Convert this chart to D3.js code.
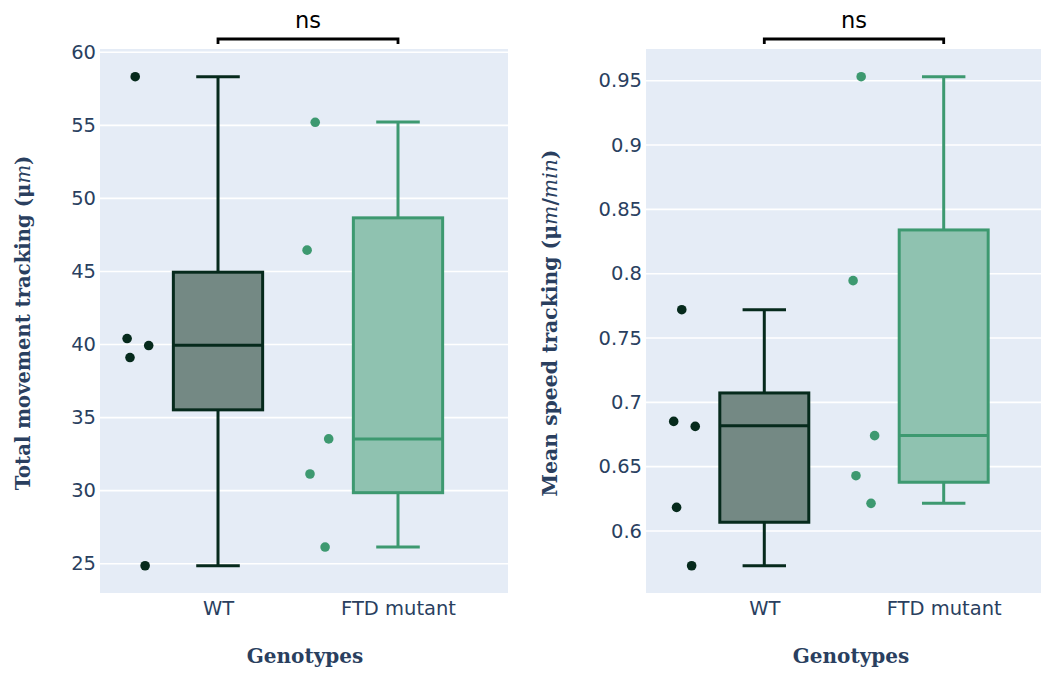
<!DOCTYPE html>
<html>
<head>
<meta charset="utf-8">
<script src="https://cdn.jsdelivr.net/npm/d3@7"></script>
<style>
  html, body { margin: 0; padding: 0; background: #fff; }
  svg { display: block; }
</style>
</head>
<body>
<svg id="chart" width="1041" height="675"></svg>
<script>
// ---------------- data ----------------
const categories = ["WT", "FTD mutant"];

// individual points (sorted high -> low)
const wtMovement  = [58.33, 40.41, 39.93, 39.11, 24.86];
const ftdMovement = [55.21, 46.46, 33.54, 31.14, 26.14];
const wtSpeed     = [0.772, 0.6852, 0.6813, 0.6184, 0.573];
const ftdSpeed    = [0.9531, 0.7946, 0.6741, 0.643, 0.6215];

// horizontal jitter of the points (category units, same for every group)
const pointJitter = [-0.46, -0.505, -0.385, -0.489, -0.405];

// box statistics: [lower fence, q1, median, q3, upper fence]
const wtMovementBox  = [24.86, 35.53, 39.95, 44.95, 58.33];
const ftdMovementBox = [26.14, 29.86, 33.54, 48.67, 55.23];
const wtSpeedBox     = [0.573, 0.6068, 0.6818, 0.7073, 0.772];
const ftdSpeedBox    = [0.6215, 0.6379, 0.6743, 0.834, 0.9531];

// tick values
const movementTicks = [25, 30, 35, 40, 45, 50, 55, 60];
const speedTicks = [0.6, 0.65, 0.7, 0.75, 0.8, 0.85, 0.9, 0.95];

const significance = ["ns", "ns"];

// ---------------- style ----------------
const colors = { "WT": "#062a1c", "FTD mutant": "#3d9970" };
const fills  = { "WT": "#748984", "FTD mutant": "#8fc2b0" };
const textColor = "#2a3f5f";
const bg = "#e5ecf6";

const svg = d3.select("#chart");

const panels = [
  {
    left: 100, right: 508, top: 49, bottom: 593,
    xDomain: [-0.6556, 1.6111],
    yDomain: [22.995, 60.226],
    ticks: movementTicks, fmt: d => String(d),
    points: [wtMovement, ftdMovement],
    boxes: [wtMovementBox, ftdMovementBox],
    title: [["Total movement tracking (", "n"], ["μ", "n"], ["m", "i"], [")", "n"]],
    titleX: 30, titleLen: 335, xTitleX: 305,
    sig: significance[0]
  },
  {
    left: 646, right: 1041, top: 49, bottom: 593,
    xDomain: [-0.6594, 1.5424],
    yDomain: [0.55181, 0.97464],
    ticks: speedTicks, fmt: d => String(d),
    points: [wtSpeed, ftdSpeed],
    boxes: [wtSpeedBox, ftdSpeedBox],
    title: [["Mean speed tracking (", "n"], ["μ", "n"], ["m", "i"], ["/", "n"], ["min", "i"], [")", "n"]],
    titleX: 557, titleLen: 347, xTitleX: 851,
    sig: significance[1]
  }
];

panels.forEach(p => {
  const x = d3.scaleLinear().domain(p.xDomain).range([p.left, p.right]);
  const y = d3.scaleLinear().domain(p.yDomain).range([p.bottom, p.top]);
  const g = svg.append("g");

  // background
  g.append("rect").attr("x", p.left).attr("y", p.top)
    .attr("width", p.right - p.left).attr("height", p.bottom - p.top)
    .attr("fill", bg);

  // grid
  g.selectAll(".grid").data(p.ticks).enter().append("line")
    .attr("x1", p.left).attr("x2", p.right)
    .attr("y1", d => y(d)).attr("y2", d => y(d))
    .attr("stroke", "#fff").attr("stroke-width", 1.6);

  // y axis labels
  const yAxis = d3.axisLeft(y).tickValues(p.ticks).tickFormat(p.fmt).tickSize(0).tickPadding(4);
  const ya = g.append("g").attr("transform", `translate(${p.left},0)`).call(yAxis);
  ya.select(".domain").remove();
  ya.selectAll("text").attr("fill", textColor)
    .style("font-family", "DejaVu Sans, Verdana, sans-serif").style("font-size", "19.5px");

  // x axis labels
  const xAxis = d3.axisBottom(x).tickValues([0, 1]).tickFormat((d, i) => categories[i]).tickSize(0).tickPadding(8);
  const xa = g.append("g").attr("transform", `translate(0,${p.bottom})`).call(xAxis);
  xa.select(".domain").remove();
  xa.selectAll("text").attr("fill", textColor)
    .style("font-family", "DejaVu Sans, Verdana, sans-serif").style("font-size", "19.5px");

  // boxes
  categories.forEach((cat, ci) => {
    const b = p.boxes[ci];
    const col = colors[cat];
    const x0 = x(ci - 0.248), x1 = x(ci + 0.248);
    const c0 = x(ci - 0.121), c1 = x(ci + 0.121);
    const cx = x(ci);
    g.append("rect").attr("x", x0).attr("y", y(b[3]))
      .attr("width", x1 - x0).attr("height", y(b[1]) - y(b[3]))
      .attr("fill", fills[cat]).attr("stroke", col).attr("stroke-width", 3);
    g.append("line").attr("x1", x0).attr("x2", x1).attr("y1", y(b[2])).attr("y2", y(b[2]))
      .attr("stroke", col).attr("stroke-width", 3);
    // whiskers
    g.append("line").attr("x1", cx).attr("x2", cx).attr("y1", y(b[3])).attr("y2", y(b[4]))
      .attr("stroke", col).attr("stroke-width", 3);
    g.append("line").attr("x1", cx).attr("x2", cx).attr("y1", y(b[1])).attr("y2", y(b[0]))
      .attr("stroke", col).attr("stroke-width", 3);
    g.append("line").attr("x1", c0).attr("x2", c1).attr("y1", y(b[4])).attr("y2", y(b[4]))
      .attr("stroke", col).attr("stroke-width", 3);
    g.append("line").attr("x1", c0).attr("x2", c1).attr("y1", y(b[0])).attr("y2", y(b[0]))
      .attr("stroke", col).attr("stroke-width", 3);
    // points
    g.selectAll(null).data(p.points[ci]).enter().append("circle")
      .attr("cx", (d, i) => x(ci + pointJitter[i]))
      .attr("cy", d => y(d))
      .attr("r", 4.8)
      .attr("fill", col);
  });

  // significance bracket
  const bx0 = x(0), bx1 = x(1);
  const by = p.top - 10;
  g.append("path")
    .attr("d", `M${bx0},${by + 5}V${by}H${bx1}V${by + 5}`)
    .attr("fill", "none").attr("stroke", "#000").attr("stroke-width", 2.8);
  g.append("text").attr("x", (bx0 + bx1) / 2).attr("y", 27.5)
    .attr("text-anchor", "middle").attr("fill", "#000")
    .style("font-family", "DejaVu Sans, Verdana, sans-serif").style("font-size", "22.5px")
    .text(p.sig);

  // y title
  const cyT = (p.top + p.bottom) / 2 + 2;
  const yt = g.append("text")
    .attr("transform", `translate(${p.titleX},${cyT}) rotate(-90)`)
    .attr("text-anchor", "middle").attr("fill", textColor)
    .style("font-family", "DejaVu Serif, serif").style("font-weight", "bold").style("font-size", "18px");
  p.title.forEach(([t, s]) => {
    yt.append("tspan").text(t).style("font-style", s === "i" ? "italic" : "normal")
      .style("font-weight", s === "i" ? "normal" : "bold");
  });
  const len = yt.node().getComputedTextLength();
  yt.style("font-size", (18 * p.titleLen / len) + "px");

  // x title
  g.append("text").attr("x", p.xTitleX).attr("y", 663)
    .attr("text-anchor", "middle").attr("fill", textColor)
    .style("font-family", "DejaVu Serif, serif").style("font-weight", "bold").style("font-size", "20px")
    .text("Genotypes");
});
</script>
</body>
</html>
